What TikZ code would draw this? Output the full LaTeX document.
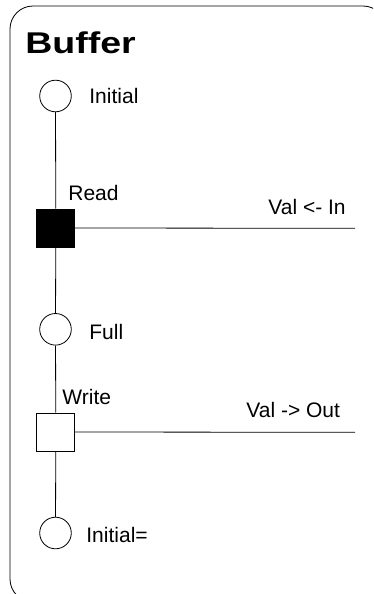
\documentclass[tikz,border=0pt]{standalone}
\usepackage{fontspec}
\setmainfont{Liberation Sans}
\begin{document}
\begin{tikzpicture}[x=1pt,y=-1pt,line width=0.8pt,
  state/.style={circle,draw,inner sep=0pt,minimum size=31.6pt},
  actbox/.style={rectangle,draw,inner sep=0pt,minimum size=38pt},
  lbl/.style={anchor=base west,inner sep=0pt,font=\fontsize{21}{25}\selectfont}]
\useasboundingbox (0,0) rectangle (373,594);
\begin{scope}
\clip (0,0) rectangle (373,594);
\draw[rounded corners=23pt] (10,6) rectangle (386,602);
\end{scope}
\node[anchor=base west,inner sep=0pt] (title) at (25,53.3)
  {\scalebox{1.25}[1]{\fontsize{30}{34}\selectfont\bfseries Buffer}};
\node[state] (c1) at (55.5,96) {};
\node[actbox,fill=black] (rd) at (55.8,228) {};
\node[state] (c2) at (55.5,329.3) {};
\node[actbox,fill=white] (wr) at (55.8,432) {};
\node[state] (c3) at (55.5,533) {};
\draw (c1) -- (rd) -- (c2) -- (wr) -- (c3);
\coordinate (inEnd) at (355,228.3);
\coordinate (outEnd) at (355,432.3);
\draw (rd.east) -- (inEnd);
\draw (wr.east) -- (outEnd);
\node[lbl] (t1) at (89,103) {Initial};
\node[lbl] (t2) at (68,200) {Read};
\node[lbl] (t3) at (268,214) {Val <- In};
\node[lbl] (t4) at (89,339) {Full};
\node[lbl] (t5) at (62,404) {Write};
\node[lbl] (t6) at (246,417) {Val -> Out};
\node[lbl] (t7) at (86,542) {Initial=};
\end{tikzpicture}
\end{document}
